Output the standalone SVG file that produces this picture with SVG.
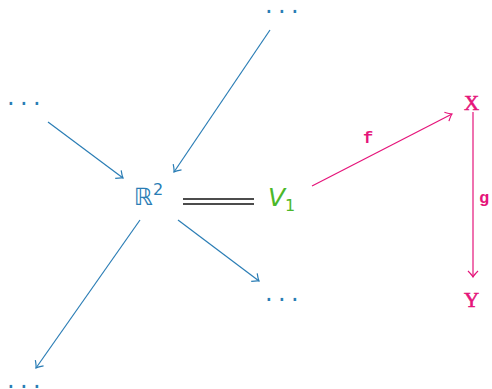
<svg xmlns="http://www.w3.org/2000/svg" width="492" height="389" viewBox="0 0 492 389">
<style>
.b{stroke:#2a7db5;stroke-width:1.2;fill:none}
.p{stroke:#e5147a;stroke-width:1.2;fill:none}
.dots{fill:#2a7db5;font-family:"DejaVu Sans",sans-serif;font-size:24px;letter-spacing:5.4px}
.mono{fill:#e5147a;font-family:"Liberation Mono","Courier New",monospace;font-weight:bold}
.cap{fill:#e5147a;stroke:#e5147a;stroke-width:0.6;font-family:"Liberation Serif",serif}
</style>
<defs>
<marker id="ab" viewBox="-8 -6 10 12" markerWidth="10" markerHeight="12" refX="0" refY="0" orient="auto" markerUnits="userSpaceOnUse">
<path d="M-6,-5 Q-2,-1 0,0 Q-2,1 -6,5" stroke="#2a7db5" stroke-width="1.2" fill="none"/>
</marker>
<marker id="ap" viewBox="-8 -6 10 12" markerWidth="10" markerHeight="12" refX="0" refY="0" orient="auto" markerUnits="userSpaceOnUse">
<path d="M-6,-5 Q-2,-1 0,0 Q-2,1 -6,5" stroke="#e5147a" stroke-width="1.2" fill="none"/>
</marker>
</defs>
<g id="connectors">
<line class="b" x1="48" y1="122" x2="123" y2="178" marker-end="url(#ab)"/>
<line class="b" x1="270" y1="30" x2="174" y2="172" marker-end="url(#ab)"/>
<line class="b" x1="140" y1="220" x2="36" y2="368" marker-end="url(#ab)"/>
<line class="b" x1="178" y1="220" x2="259" y2="281" marker-end="url(#ab)"/>
<line x1="183" y1="199" x2="254" y2="199" stroke="#111" stroke-width="1.6"/>
<line x1="183" y1="204" x2="254" y2="204" stroke="#111" stroke-width="1.6"/>
<line class="p" x1="312" y1="186" x2="452" y2="114" marker-end="url(#ap)"/>
<text class="mono" x="363" y="143" font-size="17">f</text>
<line class="p" x1="473" y1="112" x2="473" y2="277" marker-end="url(#ap)"/>
<text class="mono" x="479" y="203" font-size="17">g</text>
</g>
<g id="dots-top"><text class="dots" x="265" y="13">...</text></g>
<g id="dots-left"><text class="dots" x="7" y="105">...</text></g>
<g id="dots-br"><text class="dots" x="265" y="301">...</text></g>
<g id="dots-bl"><text class="dots" x="7" y="388">...</text></g>
<g id="R2"><text x="134" y="205" fill="#2a7db5" font-family="DejaVu Sans,sans-serif" font-size="24">ℝ<tspan dy="-10" font-size="16">2</tspan></text></g>
<g id="V1"><text x="268" y="206" fill="#4cb82a" font-family="DejaVu Sans,sans-serif" font-size="25" font-style="italic">V<tspan dy="5" font-size="16" font-style="normal">1</tspan></text></g>
<g id="X"><text class="cap" x="464" y="110" font-size="21">X</text></g>
<g id="Y"><text class="cap" x="464" y="307" font-size="21">Y</text></g>
</svg>
